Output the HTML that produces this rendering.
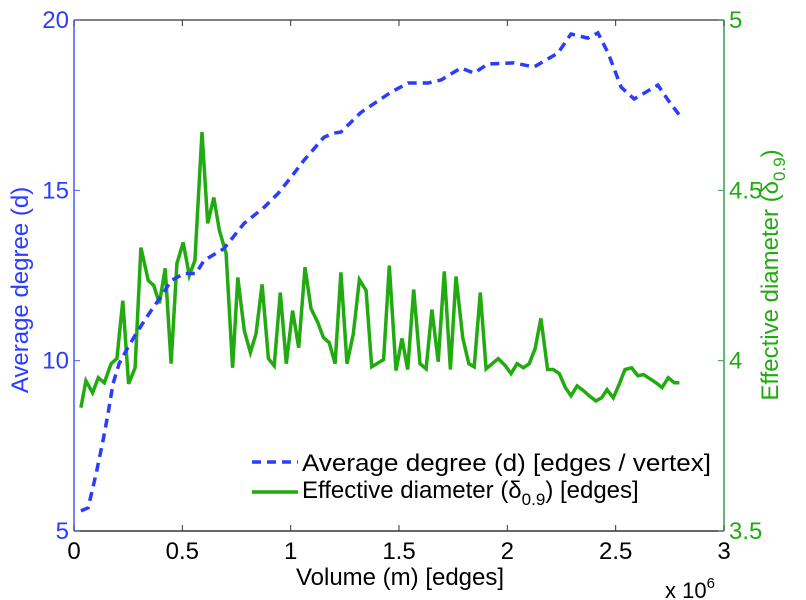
<!DOCTYPE html>
<html><head><meta charset="utf-8"><style>
html,body{margin:0;padding:0;background:#fff;}
svg{display:block;font-family:"Liberation Sans",Arial,sans-serif;}
</style></head><body>
<svg id="chart" width="806" height="600" viewBox="0 0 806 600" xmlns="http://www.w3.org/2000/svg">
<g id="axes"></g>
<g id="series"></g>
<g id="legend">
  <line x1="252" y1="462" x2="298" y2="462" stroke="#2b3cff" stroke-width="3.5" stroke-dasharray="9,6"/>
  <text x="302" y="471" font-size="24" textLength="409" lengthAdjust="spacingAndGlyphs" fill="#000">Average degree (d) [edges / vertex]</text>
  <line x1="252" y1="492" x2="298" y2="492" stroke="#22aa11" stroke-width="3.5"/>
  <text x="302" y="498" font-size="24" fill="#000">Effective diameter (δ<tspan font-size="17" dy="7">0.9</tspan><tspan dy="-7">) [edges]</tspan></text>
</g>
<text x="400" y="585" font-size="24" text-anchor="middle" fill="#000">Volume (m) [edges]</text>
<text x="665" y="598" font-size="22" fill="#000">x 10<tspan font-size="15" dy="-10">6</tspan></text>
<text transform="translate(28,290) rotate(-90)" font-size="24" text-anchor="middle" fill="#2b3cff">Average degree (d)</text>
<text transform="translate(778,275) rotate(-90)" font-size="24" text-anchor="middle" fill="#22aa11">Effective diameter (δ<tspan font-size="17" dy="7">0.9</tspan><tspan dy="-7">)</tspan></text>
</svg>
<script>
const xTicks=[0,0.5,1,1.5,2,2.5,3];
const xTickLabels=["0","0.5","1","1.5","2","2.5","3"];
const leftTicks=[5,10,15,20];
const rightTicks=[3.5,4,4.5,5];
const rightTickLabels=["3.5","4","4.5","5"];
const degX=[0.032,0.065,0.102,0.134,0.157,0.180,0.208,0.240,0.286,0.346,0.411,0.448,0.508,0.563,0.600,0.692,0.785,0.877,0.942,1.001,1.061,1.154,1.200,1.232,1.325,1.463,1.542,1.634,1.694,1.786,1.846,1.911,2.031,2.123,2.234,2.294,2.372,2.418,2.465,2.525,2.585,2.695,2.742,2.801];
const degY=[5.59,5.68,6.68,7.65,8.44,9.32,9.91,10.29,10.79,11.38,11.97,12.35,12.56,12.56,12.94,13.29,14.03,14.50,14.91,15.38,15.88,16.56,16.68,16.71,17.29,17.88,18.15,18.15,18.24,18.59,18.44,18.71,18.74,18.62,19.03,19.59,19.47,19.62,19.03,18.03,17.68,18.09,17.65,17.15];
const diaX=[0.032,0.055,0.086,0.112,0.140,0.171,0.198,0.225,0.252,0.282,0.309,0.343,0.368,0.394,0.421,0.448,0.475,0.504,0.532,0.558,0.591,0.617,0.645,0.671,0.702,0.732,0.756,0.786,0.814,0.840,0.868,0.897,0.924,0.952,0.980,1.009,1.037,1.066,1.094,1.125,1.151,1.178,1.205,1.232,1.260,1.289,1.317,1.348,1.374,1.429,1.455,1.486,1.514,1.540,1.568,1.597,1.625,1.652,1.681,1.709,1.737,1.763,1.794,1.822,1.847,1.875,1.902,1.958,1.991,2.017,2.045,2.074,2.101,2.128,2.155,2.186,2.212,2.240,2.268,2.294,2.322,2.351,2.378,2.409,2.435,2.460,2.489,2.517,2.543,2.574,2.602,2.629,2.658,2.686,2.714,2.743,2.771,2.794];
const diaY=[3.862,3.941,3.906,3.950,3.935,3.991,4.006,4.176,3.932,3.979,4.332,4.235,4.221,4.168,4.271,3.991,4.285,4.347,4.250,4.294,4.671,4.403,4.479,4.382,4.315,3.979,4.244,4.088,4.024,4.079,4.224,4.006,3.985,4.200,3.991,4.147,4.038,4.274,4.153,4.112,4.068,4.053,3.991,4.259,3.991,4.079,4.238,4.206,3.982,4.003,4.279,3.971,4.065,3.974,4.209,3.991,3.976,4.150,3.997,4.262,3.974,4.247,4.068,3.991,3.982,4.200,3.976,4.006,3.985,3.962,3.991,3.979,3.991,4.035,4.124,3.974,3.974,3.962,3.921,3.897,3.926,3.912,3.897,3.882,3.891,3.915,3.891,3.932,3.974,3.979,3.956,3.959,3.947,3.935,3.921,3.950,3.935,3.935];

const X0=74,X1=724,Y0=531,Y1=20;
const sx=v=>X0+(v-0)/(3-0)*(X1-X0);
const syL=v=>Y0-(v-5)/(20-5)*(Y0-Y1);
const syR=v=>Y0-(v-3.5)/(5-3.5)*(Y0-Y1);
const NS="http://www.w3.org/2000/svg";
function mk(tag,attrs,parent){const e=document.createElementNS(NS,tag);for(const k in attrs)e.setAttribute(k,attrs[k]);parent.appendChild(e);return e;}
const axes=document.getElementById('axes');
const series=document.getElementById('series');

let e;
e=mk('line',{x1:X0,y1:Y1,x2:X1,y2:Y1,stroke:'#555','stroke-width':1.5},axes);


e=mk('line',{x1:X0,y1:Y0,x2:X1,y2:Y0,stroke:'#333','stroke-width':1.5},axes);


e=mk('line',{x1:X0,y1:Y1,x2:X0,y2:Y0,stroke:'#4a5cff','stroke-width':1.5},axes);


e=mk('line',{x1:X1,y1:Y1,x2:X1,y2:Y0,stroke:'#3a9a55','stroke-width':1.5},axes);



xTicks.forEach((t,i)=>{
  const x=sx(t);
  let a=mk('line',{x1:x,y1:Y0,x2:x,y2:Y0-6,stroke:'#333','stroke-width':1},axes);
  
  
  let b=mk('line',{x1:x,y1:Y1,x2:x,y2:Y1+6,stroke:'#333','stroke-width':1},axes);
  
  
  let l=mk('text',{x:x,y:559,'font-size':24,'text-anchor':'middle',fill:'#000'},axes);
  l.textContent=xTickLabels[i];
  
  
});
leftTicks.forEach(t=>{
  const y=syL(t);
  let a=mk('line',{x1:X0,y1:y,x2:X0+6,y2:y,stroke:'#4a5cff','stroke-width':1},axes);
  
  
  let l=mk('text',{x:X0-5,y:y+8,'font-size':24,'text-anchor':'end',fill:'#2b3cff'},axes);
  l.textContent=String(t);
  
  
});
rightTicks.forEach((t,i)=>{
  const y=syR(t);
  let a=mk('line',{x1:X1,y1:y,x2:X1-6,y2:y,stroke:'#3a9a55','stroke-width':1},axes);
  
  
  let l=mk('text',{x:X1+5,y:y+8,'font-size':24,'text-anchor':'start',fill:'#22aa11'},axes);
  l.textContent=rightTickLabels[i];
  
  
});

const dPts=diaX.map((x,i)=>sx(x).toFixed(1)+','+syR(diaY[i]).toFixed(1)).join(' ');
let pd=mk('polyline',{points:dPts,fill:'none',stroke:'#22aa11','stroke-width':3.5,'stroke-linejoin':'miter'},series);


const aPts=degX.map((x,i)=>sx(x).toFixed(1)+','+syL(degY[i]).toFixed(1)).join(' ');
let pa=mk('polyline',{points:aPts,fill:'none',stroke:'#2b3cff','stroke-width':3.5,'stroke-dasharray':'9,6'},series);


</script>
</body></html>
